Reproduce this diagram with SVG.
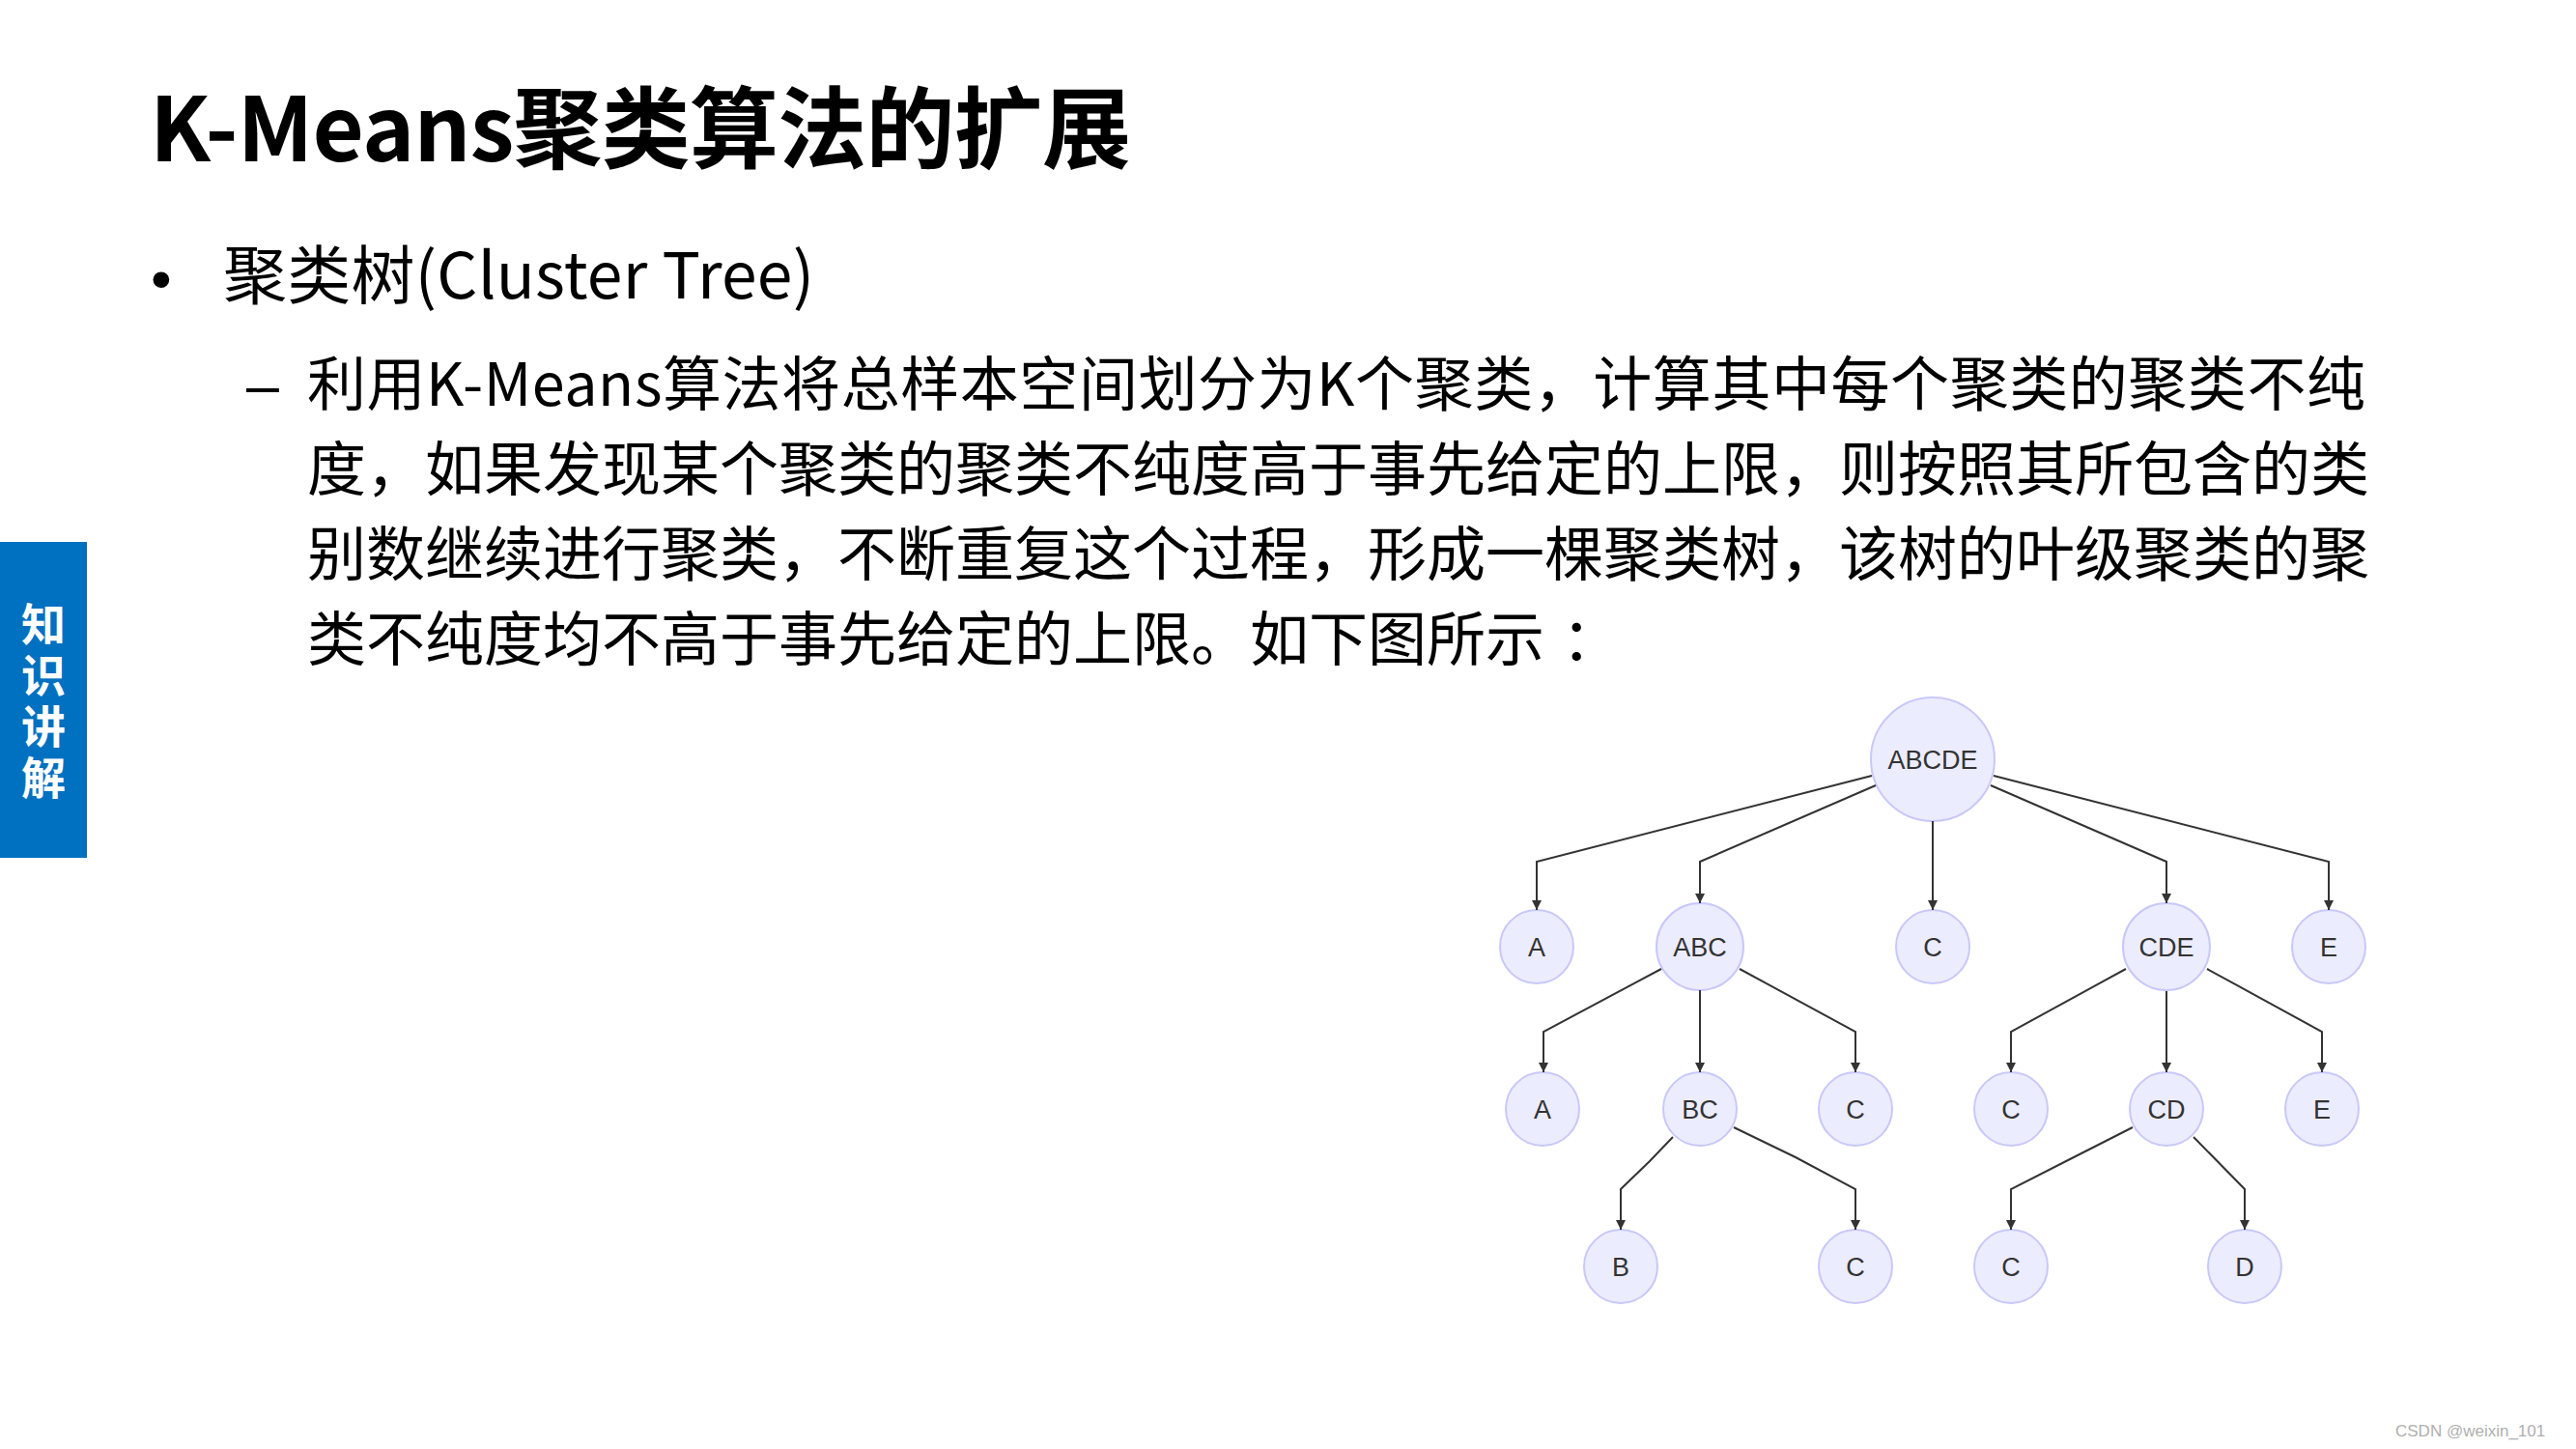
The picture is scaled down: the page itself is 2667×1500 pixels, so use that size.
<svg xmlns="http://www.w3.org/2000/svg" width="2667" height="1500" viewBox="0 0 2667 1500">
<defs>
<style>
.cjk{font-family:"Noto Sans CJK SC","Microsoft YaHei",sans-serif;fill:#000;}
.body{font-size:61px;}
.node circle{fill:#ECECFF;stroke:#C8C8FA;stroke-width:2;}
.node text{font-family:"Liberation Sans",Arial,sans-serif;font-size:27px;fill:#333;text-anchor:middle;}
.edges polyline{fill:none;stroke:#333;stroke-width:2;marker-end:url(#arrow);}
.side{font-family:"Noto Sans CJK SC",sans-serif;font-size:46px;font-weight:bold;fill:#FFFFFF;}
</style>
<marker id="arrow" markerUnits="userSpaceOnUse" markerWidth="10" markerHeight="10" refX="10" refY="5" orient="auto">
<path d="M0,0 L10,5 L0,10 z" fill="#333"/>
</marker>
</defs>
<rect x="0" y="0" width="2667" height="1500" fill="#FFFFFF"/>

<g id="sidebar">
<rect x="0" y="561" width="90" height="327" fill="#0070C0"/>
<text class="side" x="45" y="623" writing-mode="tb" letter-spacing="7">知识讲解</text>
</g>

<g id="title">
<text class="cjk" x="155" y="167" font-size="92" font-weight="bold" textLength="1016">K-Means聚类算法的扩展</text>
</g>

<g id="bullets">
<text x="156" y="310" font-family="Liberation Sans, Arial, sans-serif" font-size="62" fill="#000">•</text>
<text class="cjk" x="231" y="309" font-size="66" textLength="612">聚类树(Cluster Tree)</text>
<text x="255" y="420" font-family="Liberation Sans, Arial, sans-serif" font-size="61" fill="#000">–</text>
<text class="cjk body" x="318" y="420" textLength="2131">利用K-Means算法将总样本空间划分为K个聚类，计算其中每个聚类的聚类不纯</text>
<text class="cjk body" x="318" y="508" textLength="2135">度，如果发现某个聚类的聚类不纯度高于事先给定的上限，则按照其所包含的类</text>
<text class="cjk body" x="318" y="596" textLength="2135">别数继续进行聚类，不断重复这个过程，形成一棵聚类树，该树的叶级聚类的聚</text>
<text class="cjk body" x="318" y="684">类不纯度均不高于事先给定的上限。如下图所示<tspan dx="18">：</tspan></text>
</g>

<g id="n-ABCDE" class="node"><circle cx="2001" cy="786" r="64"/><text x="2001" y="795.5">ABCDE</text></g>
<g id="n-A1" class="node"><circle cx="1591" cy="980" r="38"/><text x="1591" y="989.5">A</text></g>
<g id="n-ABC" class="node"><circle cx="1760" cy="980" r="45"/><text x="1760" y="989.5">ABC</text></g>
<g id="n-C1" class="node"><circle cx="2001" cy="980" r="38"/><text x="2001" y="989.5">C</text></g>
<g id="n-CDE" class="node"><circle cx="2243" cy="980" r="45"/><text x="2243" y="989.5">CDE</text></g>
<g id="n-E1" class="node"><circle cx="2411" cy="980" r="38"/><text x="2411" y="989.5">E</text></g>
<g id="n-A2" class="node"><circle cx="1597" cy="1148" r="38"/><text x="1597" y="1157.5">A</text></g>
<g id="n-BC" class="node"><circle cx="1760" cy="1148" r="38"/><text x="1760" y="1157.5">BC</text></g>
<g id="n-C2" class="node"><circle cx="1921" cy="1148" r="38"/><text x="1921" y="1157.5">C</text></g>
<g id="n-C3" class="node"><circle cx="2082" cy="1148" r="38"/><text x="2082" y="1157.5">C</text></g>
<g id="n-CD" class="node"><circle cx="2243" cy="1148" r="38"/><text x="2243" y="1157.5">CD</text></g>
<g id="n-E2" class="node"><circle cx="2404" cy="1148" r="38"/><text x="2404" y="1157.5">E</text></g>
<g id="n-B" class="node"><circle cx="1678" cy="1311" r="38"/><text x="1678" y="1320.5">B</text></g>
<g id="n-C4" class="node"><circle cx="1921" cy="1311" r="38"/><text x="1921" y="1320.5">C</text></g>
<g id="n-C5" class="node"><circle cx="2082" cy="1311" r="38"/><text x="2082" y="1320.5">C</text></g>
<g id="n-D" class="node"><circle cx="2324" cy="1311" r="38"/><text x="2324" y="1320.5">D</text></g>

<g id="connectors" class="edges">
<polyline points="1938,803 1591,892 1591,942"/>
<polyline points="1942,813 1760,892 1760,935"/>
<polyline points="2001,850 2001,942"/>
<polyline points="2061,813 2243,892 2243,935"/>
<polyline points="2064,803 2411,892 2411,942"/>
<polyline points="1720,1003 1598,1068 1598,1110"/>
<polyline points="1760,1025 1760,1110"/>
<polyline points="1801,1003 1921,1068 1921,1110"/>
<polyline points="2201,1003 2082,1068 2082,1110"/>
<polyline points="2243,1026 2243,1110"/>
<polyline points="2285,1003 2404,1068 2404,1110"/>
<polyline points="1732,1177 1708,1202 1678,1231 1678,1273"/>
<polyline points="1795,1167 1859,1198 1921,1231 1921,1273"/>
<polyline points="2208,1167 2145,1199 2082,1231 2082,1273"/>
<polyline points="2271,1177 2324,1231 2324,1273"/>
</g>

<text x="2480" y="1487" font-family="Liberation Sans, Arial, sans-serif" font-size="17" fill="#AFAFAF">CSDN @weixin_101</text>
</svg>
